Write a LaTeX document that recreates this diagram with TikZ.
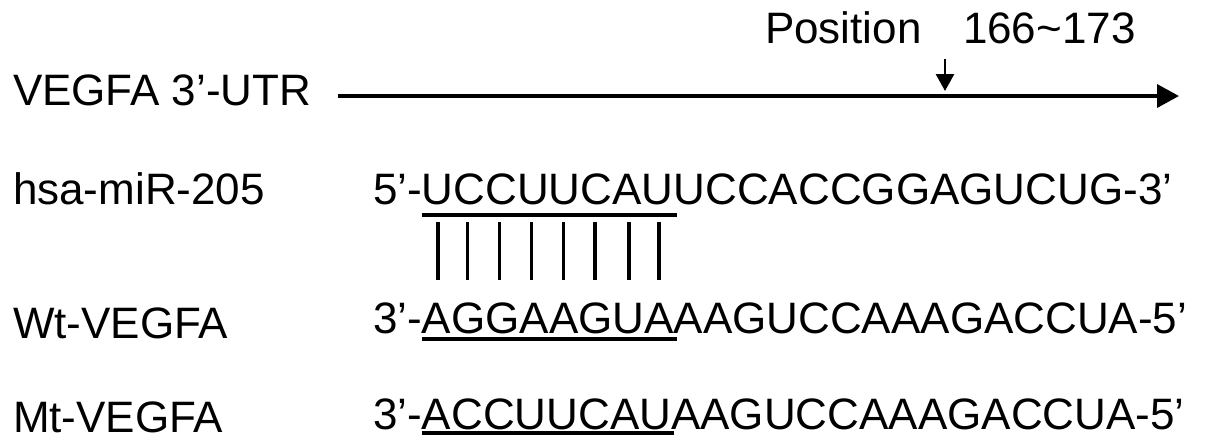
\documentclass[tikz,border=0pt]{standalone}
\usepackage{fontspec}
\setmainfont{Liberation Sans}
\usetikzlibrary{arrows.meta,calc}
\begin{document}
\begin{tikzpicture}[x=1pt,y=-1pt,
  txt/.style={inner sep=0pt,outer sep=0pt,anchor=base west,font=\fontsize{44}{48}\selectfont},
  ul/.style={line width=3.4pt},
  bar/.style={line width=3.2pt},
  mainarrow/.style={line width=3.6pt,-{Triangle[length=22pt,width=23pt]}},
  posarrow/.style={line width=2.8pt,-{Triangle[length=17pt,width=18pt]}}]
\useasboundingbox (0,0) rectangle (1205,445);
% top line
\node[txt] (utr) at (13,105) {VEGFA 3’-UTR};
\coordinate (ls) at (338,96);
\coordinate (le) at (1179,96);
\draw[mainarrow] (ls) -- (le);
\node[txt] (pos) at (765,43) {Position};
\node[txt] (rng) at (963,43) {166\char"007E 173};
\coordinate (ps) at (945,59);
\coordinate (pe) at (945,91);
\draw[posarrow] (ps) -- (pe);
% labels
\node[txt] (l1) at (13,204) {hsa-miR-205};
\node[txt] (l2) at (13,338) {Wt-VEGFA};
\node[txt] (l3) at (13,432) {Mt-VEGFA};
% row 1
\node[txt] (a1) at (373,204) {5’-};
\node[txt] (u1) at (a1.base east) {UCCUUCAU};
\node[txt] (r1) at (u1.base east) {UCCACCGGAGUCUG-3’};
\draw[ul] ($(u1.base west)+(0,11)$) -- ($(u1.base east)+(3,11)$);
% row 2
\node[txt] (a2) at (373,333) {3’-};
\node[txt] (u2) at (a2.base east) {AGGAAGUA};
\node[txt] (r2) at (u2.base east) {AAGUCCAAAGACCUA-5’};
\draw[ul] ($(u2.base west)+(0,6)$) -- ($(u2.base east)+(3,6)$);
% row 3
\node[txt] (a3) at (373,429) {3’-};
\node[txt] (u3) at (a3.base east) {ACCUUCAU};
\node[txt] (r3) at (u3.base east) {AAGUCCAAAGACCUA-5’};
\draw[ul] ($(u3.base west)+(0,4)$) -- ($(u3.base east)+(3,4)$);
% pairing bars
\foreach \x [count=\i] in {438,467.5,499.5,531.5,563.5,595,629,659}{
  \coordinate (bt\i) at (\x,222);
  \coordinate (bb\i) at (\x,280);
  \draw[bar] (bt\i) -- (bb\i);
}
\end{tikzpicture}
\end{document}
